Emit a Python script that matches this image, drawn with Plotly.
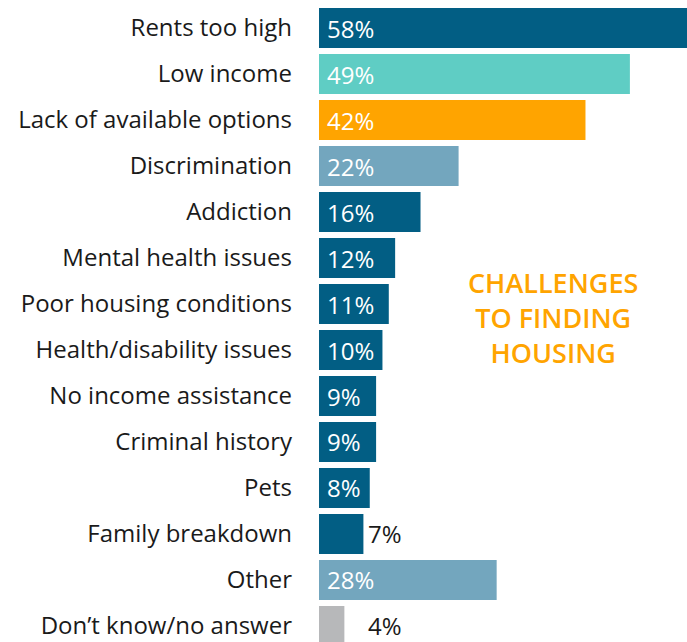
import plotly.graph_objects as go

categories = ["Rents too high", "Low income", "Lack of available options", "Discrimination",
              "Addiction", "Mental health issues", "Poor housing conditions",
              "Health/disability issues", "No income assistance", "Criminal history",
              "Pets", "Family breakdown", "Other", "Don\u2019t know/no answer"]
values = [58, 49, 42, 22, 16, 12, 11, 10, 9, 9, 8, 7, 28, 4]
label_inside = [True] * 11 + [False, True, False]

DARK = "#025E84"
TEAL = "#5FCDC4"
ORANGE = "#FFA400"
LIGHT = "#73A6BE"
GRAY = "#B7B8BA"
colors = [DARK, TEAL, ORANGE, LIGHT, DARK, DARK, DARK, DARK, DARK, DARK, DARK, DARK, LIGHT, GRAY]

FONT = "Open Sans"

fig = go.Figure(go.Bar(
    x=values, y=categories, orientation="h",
    marker=dict(color=colors, line=dict(width=0)),
    hoverinfo="skip",
))

for cat, v, inside in zip(categories, values, label_inside):
    fig.add_annotation(
        x=0, y=cat, xref="x", yref="y", text=f"{v}%", showarrow=False,
        xanchor="left", yanchor="middle",
        xshift=6 if inside else 47,
        font=dict(family=FONT, size=24, color="white" if inside else "#1a1a1a", weight=500),
    )

fig.add_annotation(
    x=0.636, y=0.505, xref="paper", yref="paper",
    text="CHALLENGES<br>TO FINDING<br>HOUSING", showarrow=False,
    xanchor="center", yanchor="middle", align="center",
    font=dict(family=FONT, size=27, color=ORANGE, weight=600),
)

fig.update_layout(
    width=687, height=642,
    margin=dict(l=319, r=0, t=0, b=0),
    paper_bgcolor="white", plot_bgcolor="white",
    bargap=0.13, showlegend=False,
    xaxis=dict(range=[0, 58], visible=False, fixedrange=True),
    yaxis=dict(range=[13.348, -0.6087], showgrid=False, zeroline=False,
               showline=False, ticks="", ticklabelstandoff=26, fixedrange=True,
               tickfont=dict(family=FONT, size=24, color="#1a1a1a")),
)

fig.write_html(
    "out.html",
    config={"displayModeBar": False},
    post_script="document.body.style.margin='0';document.body.style.overflow='hidden';",
)
